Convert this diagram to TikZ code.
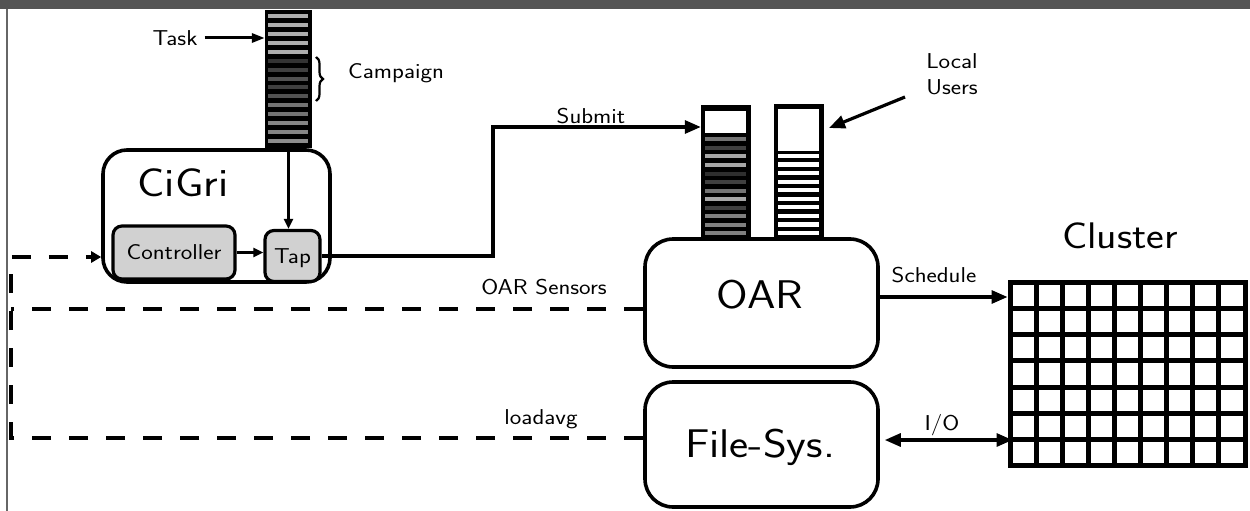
\documentclass[tikz,border=0pt]{standalone}
\usepackage{fontspec}
\setsansfont{Latin Modern Sans}[FakeStretch=1.14]
\usetikzlibrary{arrows.meta,decorations.pathreplacing}
\begin{document}
\begin{tikzpicture}[x=1pt,y=-1pt, font=\sffamily,
  box/.style={draw, line width=3.6pt, rounded corners=24pt, inner sep=0pt},
  subbox/.style={draw, line width=3.2pt, rounded corners=9pt, fill=black!18, inner sep=0pt, font=\sffamily\fontsize{21.5}{24}\selectfont},
  lbl/.style={font=\sffamily\fontsize{21.5}{26}\selectfont, inner sep=1pt},
  big/.style={font=\sffamily\fontsize{40}{44}\selectfont, inner sep=0pt},
  queue/.style={fill=black, inner sep=0pt},
  arr/.style={line width=3.2pt, -{Triangle[length=16pt,width=13pt]}},
  smallarr/.style={line width=3pt, -{Triangle[length=10pt,width=9pt]}},
  dashline/.style={line width=3.6pt, dash pattern=on 19pt off 18pt},
]
\useasboundingbox (0,0) rectangle (1250,511);
\fill[black!67] (0,0) rectangle (1250,9);
\draw[black!60, line width=1.2pt] (7,9) -- (7,511);

% Campaign queue
\node[queue, minimum width=47pt, minimum height=138pt] (camp) at (288.5,79) {};
\foreach \i/\c in {0/black!32,1/black!32,2/black!32,3/black!32,4/black!32,5/black!80,6/black!75,7/black!68,8/black!75,9/black!68,10/black!55,11/black!55,12/black!48,13/black!48,14/black!45}
  \fill[\c] (268,16+\i*8.93-2) rectangle (308,16+\i*8.93+2);

\node[lbl] (task) at (175,38) {Task};
\draw[smallarr, -{Triangle[length=13pt,width=9pt]}, shorten <=6pt] (task.east) -- (task.east -| camp.west);
\draw[decorate, decoration={brace, amplitude=7pt}, line width=2.2pt] (316,57) -- (316,101);
\node[lbl, anchor=west] (campaign) at (347,73) {Campaign};

% CiGri
\node[box, minimum width=227pt, minimum height=132pt] (cigri) at (216.5,216) {};
\node[big] (cigritxt) at (183,183) {CiGri};
\node[subbox, minimum width=122pt, minimum height=53pt] (ctrl) at (174,252.5) {Controller};
\node[subbox, minimum width=55pt, minimum height=51pt, text depth=-4pt] (tap) at (292.5,256) {Tap};
\draw[smallarr] (ctrl.east) -- (ctrl.east -| tap.west);
\draw[smallarr] (camp.south) -- (camp.south |- tap.north);

% OAR queues
\node[queue, minimum width=50pt, minimum height=135pt] (oarq1) at (726,172.5) {};
\fill[white] (705,111) rectangle (746,133);
\foreach \i/\c in {0/black!55,1/black!75,2/black!35,3/black!35,4/black!82,5/black!75,6/black!55,7/black!35,8/black!75,9/black!50,10/black!50,11/black!50}
  \fill[\c] (705,139.3+\i*8.55-2) rectangle (746,139.3+\i*8.55+2);
\node[queue, minimum width=50pt, minimum height=136pt] (oarq2) at (799,172) {};
\fill[white] (778,109) rectangle (819,151);
\foreach \i in {0,...,9}
  \fill[white] (778,156+\i*8.55-2.1) rectangle (819,156+\i*8.55+2.1);

% Submit
\coordinate (subcorner) at (493,127);
\draw[arr] (tap.east) -| (subcorner) -- (subcorner -| oarq1.west);
\node[lbl] (submit) at (591,116) {Submit};

% Local users
\node[lbl, align=left] (local) at (952,74) {Local\\Users};
\coordinate (lustart) at (905,97);
\coordinate (lutip) at (829,128);
\draw[arr] (lustart) -- (lutip);

% OAR and File-Sys
\node[box, minimum width=233pt, minimum height=128pt, rounded corners=28pt] (oar) at (761.5,303) {};
\node[big] (oartxt) at (760,295) {OAR};
\node[box, minimum width=233pt, minimum height=125pt, rounded corners=28pt] (fs) at (761.5,444.5) {};
\node[big] (fstxt) at (760,447) {File-Sys.};

% Cluster
\node[draw, line width=5pt, minimum width=235pt, minimum height=183pt, inner sep=0pt] (cluster) at (1127.5,374) {};
\foreach \k in {1,...,8} \draw[line width=5pt] (1010+\k*26.11,282.5) -- (1010+\k*26.11,465.5);
\foreach \k in {1,...,6} \draw[line width=5pt] (1010,282.5+\k*26.14) -- (1245,282.5+\k*26.14);
\node[font=\sffamily\fontsize{37}{42}\selectfont, inner sep=0pt] (clustertxt) at (1120,236) {Cluster};

\draw[arr] ([yshift=6pt]oar.east) -- ([yshift=6pt]oar.east -| cluster.west);
\node[lbl] (schedule) at (934,275) {Schedule};
\draw[line width=3.2pt, {Triangle[length=16pt,width=13pt]}-{Triangle[length=16pt,width=13pt]}] ([xshift=5pt,yshift=4.5pt]fs.east) -- ([xshift=5pt,yshift=4.5pt]fs.east -| cluster.west);
\node[lbl] (io) at (942,425) {I/O};

% Dashed sensors
\coordinate (lc) at (11,257);
\coordinate (lm) at (11,309);
\coordinate (lb) at (11,438);
\draw[dashline] (fs.west |- lb) -- (lb) -- (lc) -- ([xshift=-12pt]cigri.west |- lc);
\draw[line width=3.6pt, -{Triangle[length=10pt,width=11pt]}] ([xshift=-13pt]cigri.west |- lc) -- (cigri.west |- lc);
\draw[dashline] (oar.west |- lm) -- (lm);
\node[lbl] (sensors) at (544,287) {OAR Sensors};
\node[lbl] (loadavg) at (541,419) {loadavg};
\end{tikzpicture}
\end{document}
